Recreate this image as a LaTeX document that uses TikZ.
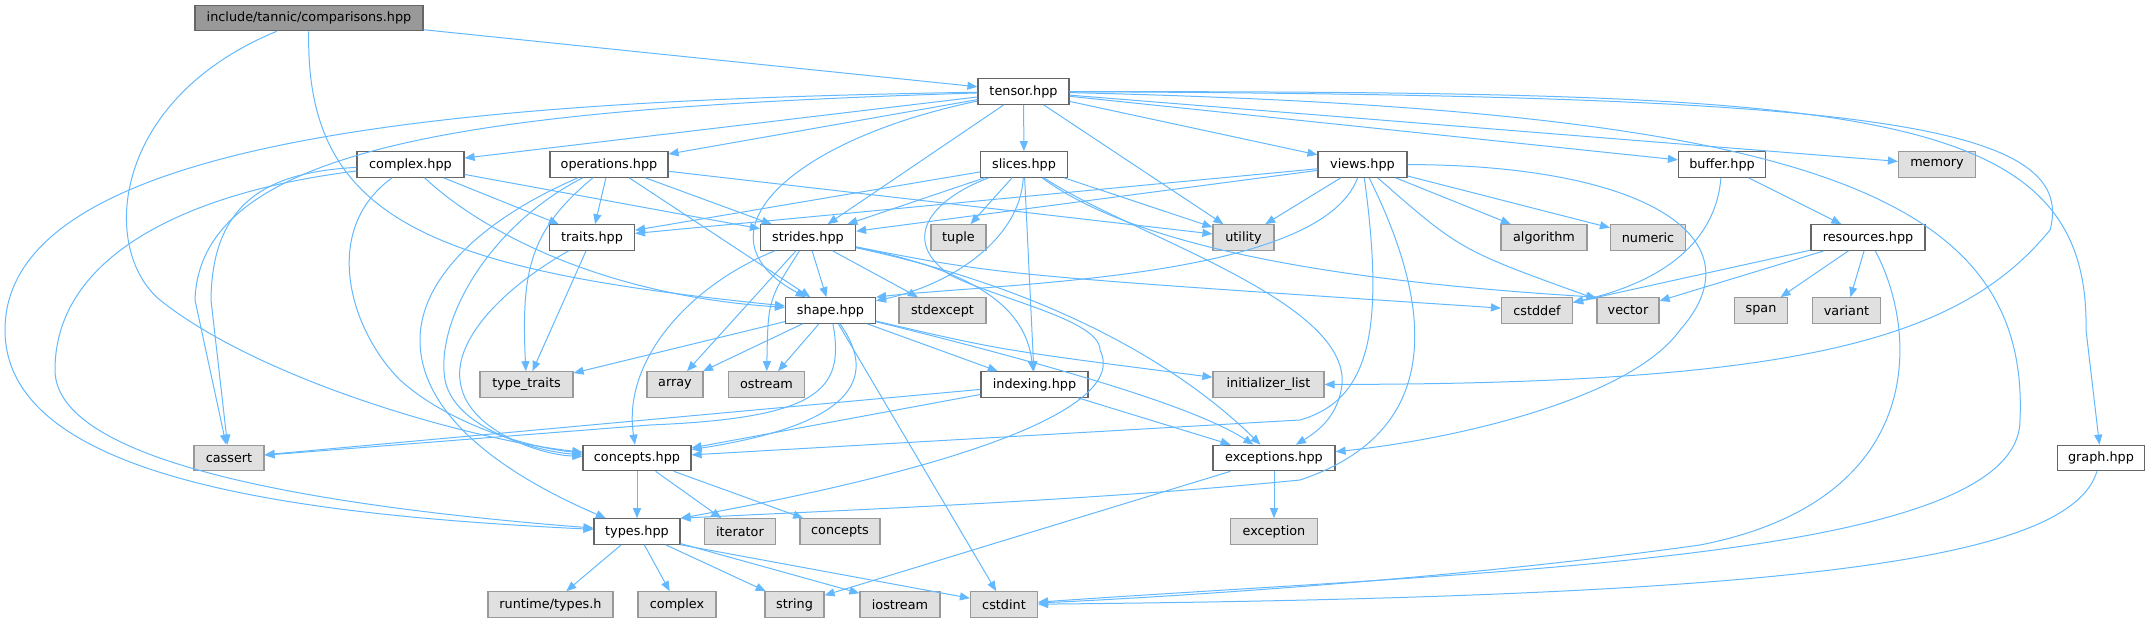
\documentclass[tikz,border=0pt]{standalone}
\usepackage{fontspec}
\setmainfont{DejaVu Sans}
\usetikzlibrary{arrows.meta}
\definecolor{edgeblue}{HTML}{63B8FF}
\definecolor{boxdraw}{HTML}{666666}
\definecolor{stddraw}{HTML}{999999}
\definecolor{stdfill}{HTML}{E0E0E0}
\tikzset{filebox/.style={draw=boxdraw, fill=white, line width=0.9pt, inner sep=0pt, minimum height=19.1pt, font=\fontsize{9.6}{11}\selectfont}}
\tikzset{stdbox/.style={filebox, draw=stddraw, fill=stdfill}}
\tikzset{topbox/.style={filebox, fill=stddraw}}
\tikzset{bw/.style={minimum width=#1*0.75pt}}
\tikzset{inc/.style={draw=edgeblue, line width=0.75pt, -{Triangle[length=7.5pt,width=6pt]}}}

\begin{document}
\begin{tikzpicture}[x=0.75pt,y=-0.75pt]
\useasboundingbox (0,0) rectangle (2150,623);

\node[topbox, bw=228] (comp) at (309,18) {include/tannic/comparisons.hpp};
\node[filebox, bw=91] (tensor) at (1023.5,91.5) {tensor.hpp};

\node[filebox, bw=107] (cplx) at (410.5,164.5) {complex.hpp};
\node[filebox, bw=118] (ops) at (609,164.5) {operations.hpp};
\node[filebox, bw=87] (slices) at (1024,164.5) {slices.hpp};
\node[filebox, bw=89] (views) at (1362.5,164.5) {views.hpp};
\node[filebox, bw=87] (buffer) at (1722,164.5) {buffer.hpp};
\node[stdbox, bw=77] (memory) at (1937,164.5) {memory};

\node[filebox, bw=85] (traits) at (592,237.5) {traits.hpp};
\node[filebox, bw=95] (strides) at (808,237.5) {strides.hpp};
\node[stdbox, bw=55] (tuple) at (958.5,237.5) {tuple};
\node[stdbox, bw=61] (utility) at (1243.5,237.5) {utility};
\node[stdbox, bw=86] (algorithm) at (1544,237.5) {algorithm};
\node[stdbox, bw=75] (numeric) at (1648,237.5) {numeric};
\node[filebox, bw=114] (resources) at (1868,237.5) {resources.hpp};

\node[filebox, bw=90] (shape) at (830.5,310.5) {shape.hpp};
\node[stdbox, bw=87] (stdexcept) at (942.5,310.5) {stdexcept};
\node[stdbox, bw=71] (cstddef) at (1537,310.5) {cstddef};
\node[stdbox, bw=62] (vector) at (1628,310.5) {vector};
\node[stdbox, bw=53] (span) at (1761,310.5) {span};
\node[stdbox, bw=68] (variant) at (1846.5,310.5) {variant};

\node[stdbox, bw=93] (typetraits) at (526.5,384.5) {type\_traits};
\node[stdbox, bw=56] (array) at (675,384.5) {array};
\node[stdbox, bw=76] (ostream) at (766.5,384.5) {ostream};
\node[filebox, bw=107] (indexing) at (1034.5,384.5) {indexing.hpp};
\node[stdbox, bw=111] (initlist) at (1268.5,384.5) {initializer\_list};

\node[stdbox, bw=70] (cassert) at (229,458) {cassert};
\node[filebox, bw=108] (concepts) at (637,458) {concepts.hpp};
\node[filebox, bw=122] (exceptions) at (1274,458) {exceptions.hpp};
\node[filebox, bw=87] (graph) at (2101,458) {graph.hpp};

\node[filebox, bw=86] (types) at (637,531.5) {types.hpp};
\node[stdbox, bw=71] (iterator) at (740,531.5) {iterator};
\node[stdbox, bw=80] (conceptsstd) at (840,531.5) {concepts};
\node[stdbox, bw=87] (exception) at (1274,531.5) {exception};

\node[stdbox, bw=125] (runtime) at (550.5,604.5) {runtime/types.h};
\node[stdbox, bw=78] (complexstd) at (677,604.5) {complex};
\node[stdbox, bw=59] (string) at (794.5,604.5) {string};
\node[stdbox, bw=80] (iostream) at (900,604.5) {iostream};
\node[stdbox, bw=67] (cstdint) at (1004,604.5) {cstdint};

\foreach \a/\b in {comp/tensor, tensor/cplx, tensor/ops, tensor/slices, tensor/views, tensor/buffer,
    tensor/memory, tensor/strides, tensor/utility, cplx/traits, cplx/strides,
    ops/traits, ops/shape, ops/strides, ops/utility, traits/typetraits,
    slices/traits, slices/strides, slices/tuple, slices/indexing, slices/utility,
    views/traits, views/strides, views/utility, views/algorithm, views/numeric,
    buffer/resources, resources/cstddef, resources/vector, resources/span, resources/variant,
    strides/array, strides/shape, strides/stdexcept,
    shape/typetraits, shape/array, shape/ostream, shape/cstdint, shape/indexing,
    indexing/cassert, indexing/concepts, indexing/exceptions,
    concepts/types, concepts/iterator, concepts/conceptsstd,
    types/runtime, types/complexstd, types/string, types/iostream,
    exceptions/exception, exceptions/string}
  \draw[inc] (\a) -- (\b);

\draw[inc] (comp) .. controls (305,220) and (430,270) .. (shape);
\draw[inc] (comp) .. controls (110,100) and (100,250) .. (160,300) .. controls (260,380) and (470,440) .. (concepts);

\draw[inc] (tensor) .. controls (500,100) and (5,130) .. (5,330) .. controls (5,480) and (300,515) .. (types);
\draw[inc] (tensor) .. controls (500,108) and (200,140) .. (195,300) -- (cassert);
\draw[inc] (tensor) .. controls (790,140) and (690,235) .. (shape);
\draw[inc] (tensor) .. controls (1850,92) and (2090,100) .. (2086,330) -- (graph);
\draw[inc] (tensor) .. controls (1850,95) and (2080,120) .. (2050,230) .. controls (1960,340) and (1800,384) .. (initlist);
\draw[inc] (tensor) .. controls (1800,110) and (2030,190) .. (2020,420) .. controls (2020,560) and (1500,570) .. (cstdint);

\draw[inc] (cplx) .. controls (270,172) and (212,200) .. (211,300) -- (cassert);
\draw[inc] (cplx) .. controls (200,190) and (55,250) .. (55,370) .. controls (55,460) and (300,505) .. (types);
\draw[inc] (cplx) .. controls (320,230) and (350,330) .. (400,380) .. controls (450,425) and (530,448) .. (concepts);
\draw[inc] (cplx) .. controls (480,230) and (600,295) .. (shape);

\draw[inc] (ops) .. controls (480,220) and (420,280) .. (420,340) .. controls (420,430) and (540,490) .. (types);
\draw[inc] (ops) .. controls (490,225) and (435,320) .. (445,380) .. controls (455,430) and (540,452) .. (concepts);
\draw[inc] (ops) .. controls (530,230) and (521,270) .. (typetraits);
\draw[inc] (traits) .. controls (500,290) and (455,340) .. (460,380) .. controls (465,430) and (540,455) .. (concepts);

\draw[inc] (slices) .. controls (1020,240) and (950,285) .. (shape);
\draw[inc] (slices) .. controls (930,200) and (900,240) .. (950,275) .. controls (1000,300) and (1100,320) .. (1100,350) .. controls (1130,410) and (950,470) .. (types.north east);
\draw[inc] (slices) .. controls (1130,235) and (1350,300) .. (1342,385) .. controls (1338,415) and (1320,430) .. (exceptions);
\draw[inc] (slices) .. controls (1140,250) and (1350,282) .. (vector.north west);

\draw[inc] (views) .. controls (1320,280) and (1000,283) .. (shape.north east);
\draw[inc] (views) .. controls (1385,330) and (1370,400) .. (1300,420) -- (concepts);
\draw[inc] (views) .. controls (1430,300) and (1450,430) .. (1300,480) .. controls (1100,500) and (850,510) .. (types.north east);
\draw[inc] (views) .. controls (1650,165) and (1760,240) .. (1680,330) .. controls (1630,400) and (1450,440) .. (exceptions);
\draw[inc] (views) .. controls (1460,250) .. (vector);

\draw[inc] (buffer) .. controls (1715,250) and (1650,285) .. (cstddef);
\draw[inc] (resources) .. controls (1918,330) and (1930,500) .. (1700,545) .. controls (1450,580) and (1150,598) .. (cstdint);
\draw[inc] (graph) .. controls (2070,560) and (1800,597) .. (cstdint);

\draw[inc] (shape) .. controls (845,390) and (820,418) .. (650,425) -- (cassert);
\draw[inc] (shape) .. controls (880,380) and (850,425) .. (concepts);
\draw[inc] (shape) .. controls (1080,372) and (1200,410) .. (exceptions);
\draw[inc] (shape) .. controls (1000,350) .. (initlist);

\draw[inc] (strides) .. controls (690,285) and (622,360) .. (concepts);
\draw[inc] (strides) .. controls (768,300) .. (ostream);
\draw[inc] (strides) .. controls (960,268) and (1025,300) .. (indexing);
\draw[inc] (strides) .. controls (1100,300) and (1215,400) .. (exceptions);
\draw[inc] (strides) .. controls (1000,275) .. (cstddef);

\draw[inc] (types.south east) -- (cstdint);
\end{tikzpicture}
\end{document}
